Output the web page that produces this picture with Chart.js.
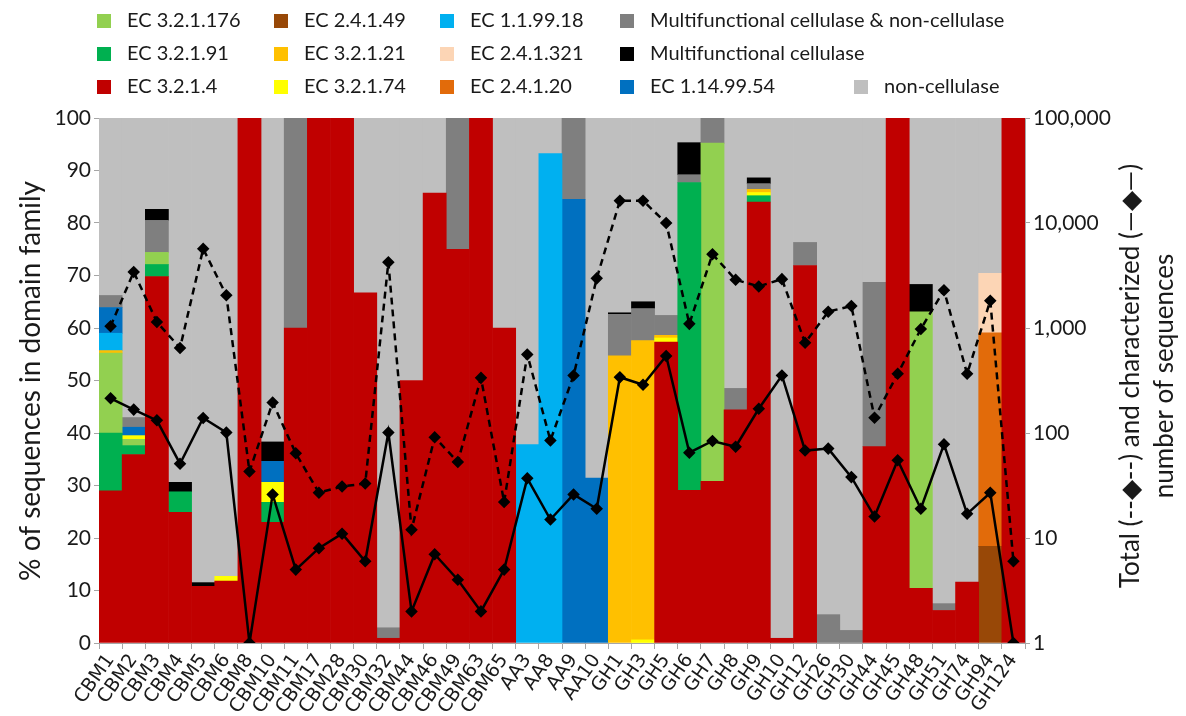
<!DOCTYPE html>
<html>
<head>
<meta charset="utf-8">
<script src="https://cdn.jsdelivr.net/npm/chart.js@4.4.0/dist/chart.umd.min.js"></script>
<style>
  body { margin: 0; background: #fff; }
  #wrap { position: relative; width: 1186px; height: 716px; overflow: hidden; }
  #chart { position: absolute; left: 0; top: 0; }
  .leg { position: absolute; font-family: Lato, sans-serif; font-size: 20px; line-height: 22px; color: #1a1a1a; white-space: nowrap; }
  .leg i { display: inline-block; width: 14px; height: 14px; margin-right: 16px; vertical-align: -1px; }
</style>
</head>
<body>
<div id="wrap">
  <canvas id="chart" width="1186" height="716"></canvas>
  <div id="legend"></div>
</div>
<script>
const families = ['CBM1', 'CBM2', 'CBM3', 'CBM4', 'CBM5', 'CBM6', 'CBM8', 'CBM10', 'CBM11', 'CBM17',
    'CBM28', 'CBM30', 'CBM32', 'CBM44', 'CBM46', 'CBM49', 'CBM63', 'CBM65', 'AA3', 'AA8',
    'AA9', 'AA10', 'GH1', 'GH3', 'GH5', 'GH6', 'GH7', 'GH8', 'GH9', 'GH10',
    'GH12', 'GH26', 'GH30', 'GH44', 'GH45', 'GH48', 'GH51', 'GH74', 'GH94', 'GH124'];

// % of sequences per class (stacked bottom to top)
const ec3214 = [29, 35.9, 69.8, 24.9, 10.8, 11.8, 100, 23, 60, 100,
    100, 66.7, 0.9, 50, 85.7, 75, 100, 60, 0, 0,
    0, 0, 0, 0, 57.3, 29.1, 30.8, 44.4, 84, 0.9,
    71.9, 0, 0, 37.4, 100, 10.4, 6.2, 11.6, 0, 100];
const ec24149 = [0, 0, 0, 0, 0, 0, 0, 0, 0, 0, 0, 0, 0, 0, 0, 0, 0, 0, 0, 0,
    0, 0, 0, 0, 0, 0, 0, 0, 0, 0, 0, 0, 0, 0, 0, 0, 0, 0, 18.4, 0];
const ec24120 = [0, 0, 0, 0, 0, 0, 0, 0, 0, 0, 0, 0, 0, 0, 0, 0, 0, 0, 0, 0,
    0, 0, 0, 0, 0, 0, 0, 0, 0, 0, 0, 0, 0, 0, 0, 0, 0, 0, 40.7, 0];
const ec241321 = [0, 0, 0, 0, 0, 0, 0, 0, 0, 0, 0, 0, 0, 0, 0, 0, 0, 0, 0, 0,
    0, 0, 0, 0, 0, 0, 0, 0, 0, 0, 0, 0, 0, 0, 0, 0, 0, 0, 11.3, 0];
const ec32191 = [11, 1.7, 2.3, 3.9, 0, 0, 0, 3.8, 0, 0, 0, 0, 0, 0, 0, 0, 0, 0, 0, 0,
    0, 0, 0, 0, 0, 58.6, 0, 0, 1.2, 0, 0, 0, 0, 0, 0, 0, 0, 0, 0, 0];
const ec321176 = [15.2, 1.2, 2.3, 0, 0, 0, 0, 0, 0, 0, 0, 0, 0, 0, 0, 0, 0, 0, 0, 0,
    0, 0, 0, 0, 0, 0, 64.4, 0, 0, 0, 0, 0, 0, 0, 0, 52.7, 0, 0, 0, 0];
const ec32174 = [0, 0.7, 0, 0, 0, 0.9, 0, 3.8, 0, 0, 0, 0, 0, 0, 0, 0, 0, 0, 0, 0,
    0, 0, 0, 0.6, 0.8, 0, 0, 0, 0.6, 0, 0, 0, 0, 0, 0, 0, 0, 0, 0, 0];
const ec32121 = [0.5, 0, 0, 0, 0, 0, 0, 0, 0, 0, 0, 0, 0, 0, 0, 0, 0, 0, 0, 0,
    0, 0, 54.7, 57, 0.5, 0, 0, 0, 0.6, 0, 0, 0, 0, 0, 0, 0, 0, 0, 0, 0];
const ec119918 = [3.3, 0, 0, 0, 0, 0, 0, 0, 0, 0, 0, 0, 0, 0, 0, 0, 0, 0, 37.8, 93.2,
    0, 0, 0, 0, 0, 0, 0, 0, 0, 0, 0, 0, 0, 0, 0, 0, 0, 0, 0, 0];
const ec1149954 = [4.9, 1.6, 0, 0, 0, 0, 0, 4, 0, 0, 0, 0, 0, 0, 0, 0, 0, 0, 0, 0,
    84.5, 31.4, 0, 0, 0, 0, 0, 0, 0, 0, 0, 0, 0, 0, 0, 0, 0, 0, 0, 0];
const multiNon = [2.3, 1.85, 6.1, 0, 0, 0, 0, 0, 40, 0, 0, 0, 2, 0, 0, 25, 0, 0, 0, 0,
    15.5, 0, 7.9, 6.1, 3.8, 1.5, 4.8, 4.1, 1.1, 0, 4.4, 5.4, 2.4, 31.3, 0, 0, 1.3, 0, 0, 0];
const multiCell = [0, 0, 2.1, 1.8, 0.7, 0, 0, 3.7, 0, 0, 0, 0, 0, 0, 0, 0, 0, 0, 0, 0,
    0, 0, 0.3, 1.3, 0, 6.1, 0, 0, 1.1, 0, 0, 0, 0, 0, 0, 5.2, 0, 0, 0, 0];
const nonCell = [33.8, 57, 17.4, 69.4, 88.5, 87.3, 0, 61.7, 0, 0,
    0, 33.3, 97.1, 50, 14.3, 0, 0, 40, 62.2, 6.8,
    0, 68.6, 37.1, 35, 37.6, 4.7, 0, 51.5, 11.4, 99.1,
    23.7, 94.6, 97.6, 31.3, 0, 31.7, 92.5, 88.4, 29.6, 0];

// number of sequences (right log axis)
const totalSeqs = [1040, 3420, 1140, 645, 5680, 2050, 43, 195, 64, 27,
    31, 33, 4230, 12, 91, 53, 335, 22, 560, 85,
    353, 2970, 16300, 16300, 10000, 1095, 5050, 2880, 2490, 2920,
    723, 1430, 1620, 140, 366, 977, 2290, 366, 1820, 6];
const characterized = [214, 167, 132, 51, 139, 101, 1, 26, 5, 8,
    11, 6, 101, 2, 7, 4, 2, 5, 37, 15,
    26, 19, 340, 288, 542, 65, 84, 74, 170, 353,
    68, 71, 38, 16, 55, 19, 78, 17, 27, 1];

const logTicks = [1, 10, 100, 1000, 10000, 100000];

// stacking order, bottom first
const classes = [
    ['EC 3.2.1.4', ec3214, '#c00000'],
    ['EC 2.4.1.49', ec24149, '#984807'],
    ['EC 2.4.1.20', ec24120, '#e26b0a'],
    ['EC 2.4.1.321', ec241321, '#fcd5b5'],
    ['EC 3.2.1.91', ec32191, '#00b050'],
    ['EC 3.2.1.176', ec321176, '#92d050'],
    ['EC 3.2.1.74', ec32174, '#ffff00'],
    ['EC 3.2.1.21', ec32121, '#ffc000'],
    ['EC 1.1.99.18', ec119918, '#00b0f0'],
    ['EC 1.14.99.54', ec1149954, '#0070c0'],
    ['Multifunctional cellulase & non-cellulase', multiNon, '#7f7f7f'],
    ['Multifunctional cellulase', multiCell, '#000000'],
    ['non-cellulase', nonCell, '#bfbfbf']
];
const colorOf = {};
classes.forEach(c => colorOf[c[0]] = c[2]);

// legend grid, as laid out in the figure
const legendRows = [
    ['EC 3.2.1.176', 'EC 2.4.1.49', 'EC 1.1.99.18', 'Multifunctional cellulase & non-cellulase'],
    ['EC 3.2.1.91', 'EC 3.2.1.21', 'EC 2.4.1.321', 'Multifunctional cellulase'],
    ['EC 3.2.1.4', 'EC 3.2.1.74', 'EC 2.4.1.20', 'EC 1.14.99.54', 'non-cellulase']
];
const legendCols = [97, 274, 440, 620, 854];
const legendTops = [8, 41, 74];

const legendBox = document.getElementById('legend');
legendRows.forEach((row, r) => {
    row.forEach((name, c) => {
        const item = document.createElement('div');
        item.className = 'leg';
        item.style.left = legendCols[c] + 'px';
        item.style.top = legendTops[r] + 'px';
        item.innerHTML = `<i style="background:${colorOf[name]}"></i>${name.replace('&', '&amp;')}`;
        legendBox.appendChild(item);
    });
});

const sideTitles = {
    id: 'sideTitles',
    afterDraw(chart) {
        const ctx = chart.ctx;
        ctx.save();
        ctx.fillStyle = '#1a1a1a';
        ctx.textAlign = 'center';
        ctx.textBaseline = 'middle';
        ctx.font = '28px Lato';
        ctx.translate(31, 381);
        ctx.rotate(-Math.PI / 2);
        ctx.fillText('% of sequences in domain family', 0, 0);
        ctx.restore();

        ctx.save();
        ctx.fillStyle = '#1a1a1a';
        ctx.textAlign = 'center';
        ctx.textBaseline = 'middle';
        ctx.font = '26px Lato';
        ctx.translate(1131, 376);
        ctx.rotate(-Math.PI / 2);
        ctx.fillText('Total (--\u25C6--) and characterized (\u2014\u25C6\u2014)', 0, 0);
        ctx.fillText('number of sequences', 0, 34);
        ctx.restore();
    }
};

const datasets = classes.map(c => ({
    label: c[0],
    data: c[1].map(v => v || null),
    backgroundColor: c[2],
    borderWidth: 0,
    barPercentage: 1,
    categoryPercentage: 1,
    yAxisID: 'y',
    order: 2
}));

datasets.push({
    type: 'line',
    label: 'Total',
    data: totalSeqs,
    yAxisID: 'y2',
    borderColor: '#000',
    borderWidth: 2.5,
    borderDash: [7, 5],
    pointStyle: 'rectRot',
    pointRadius: 4.5,
    pointBackgroundColor: '#000',
    pointBorderColor: '#000',
    tension: 0,
    order: 0
});
datasets.push({
    type: 'line',
    label: 'Characterized',
    data: characterized,
    yAxisID: 'y2',
    borderColor: '#000',
    borderWidth: 2.5,
    pointStyle: 'rectRot',
    pointRadius: 4.5,
    pointBackgroundColor: '#000',
    pointBorderColor: '#000',
    tension: 0,
    order: 1
});

new Chart(document.getElementById('chart').getContext('2d'), {
    type: 'bar',
    data: { labels: families, datasets: datasets },
    options: {
        responsive: false,
        animation: false,
        devicePixelRatio: 1,
        layout: { padding: { top: 118, left: 0, right: 0, bottom: 0 } },
        plugins: {
            legend: { display: false },
            tooltip: { enabled: false }
        },
        scales: {
            x: {
                stacked: true,
                offset: true,
                afterFit: scale => { scale.height = 73; },
                grid: { offset: true, drawOnChartArea: false, tickLength: 6, color: '#a6a6a6' },
                border: { color: '#a6a6a6' },
                ticks: {
                    autoSkip: false,
                    maxRotation: 55,
                    minRotation: 55,
                    padding: 1,
                    color: '#1a1a1a',
                    font: { family: 'DejaVu Sans', size: 19 }
                }
            },
            y: {
                stacked: true,
                min: 0,
                max: 100,
                afterFit: scale => { scale.width = 99; },
                grid: { drawOnChartArea: false, tickLength: 5, color: '#a6a6a6' },
                border: { color: '#a6a6a6' },
                ticks: {
                    stepSize: 10,
                    padding: 3,
                    color: '#1a1a1a',
                    font: { family: 'Lato', size: 21 }
                }
            },
            y2: {
                type: 'logarithmic',
                position: 'right',
                min: 1,
                max: 100000,
                afterFit: scale => { scale.width = 161; },
                afterBuildTicks: scale => { scale.ticks = logTicks.map(v => ({ value: v })); },
                grid: { drawOnChartArea: false, tickLength: 5, color: '#a6a6a6' },
                border: { color: '#a6a6a6' },
                ticks: {
                    padding: 3,
                    color: '#1a1a1a',
                    font: { family: 'Lato', size: 21 },
                    callback: value => value.toLocaleString('en-US')
                }
            }
        }
    },
    plugins: [sideTitles]
});
</script>
</body>
</html>
